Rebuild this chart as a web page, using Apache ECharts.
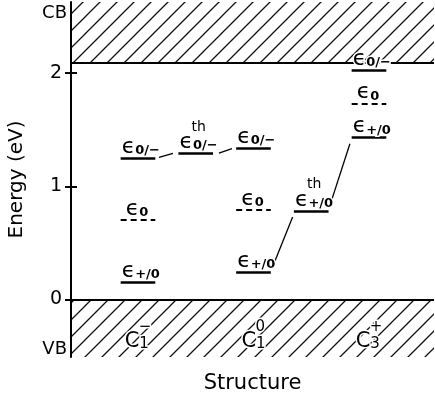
<!DOCTYPE html>
<html><head><meta charset="utf-8">
<script src="https://cdn.jsdelivr.net/npm/echarts@6/dist/echarts.min.js"></script>
<style>html,body{margin:0;padding:0;background:#fff}#c{width:435px;height:394px}</style>
</head><body><div id="c"></div>
<script>
// ---- data ----
const yTicks = [0, 1, 2];
const bandLabels = ['VB', 'CB'];
const bandLabelE = [-0.44, 2.53];
const vbTop = 0;
const cbBottom = 2.09;

const structureX = [1, 2, 3];
const structureBase = ['C', 'C', 'C'];
const structureSub = ['1', '1', '3'];
const structureSup = ['\u2212', '0', '+'];

const levelX = [1, 1, 1, 1.5, 2, 2, 2, 2.5, 3, 3, 3];
const levelE = [1.25, 0.70, 0.15, 1.29, 1.34, 0.79, 0.24, 0.78, 2.03, 1.73, 1.43];
const levelName = ['0/\u2212', '0', '+/0', '0/\u2212', '0/\u2212', '0', '+/0', '+/0', '0/\u2212', '0', '+/0'];
const levelTh = [false, false, false, true, false, false, false, true, false, false, false];

const connectorX0 = [1.182, 1.701, 2.166, 2.662];
const connectorE0 = [1.256, 1.294, 0.288, 0.831];
const connectorX1 = [1.303, 1.814, 2.339, 2.835];
const connectorE1 = [1.291, 1.333, 0.729, 1.376];

// ---- styles ----
const FONT = 'DejaVu Sans';
const HALF = 0.15;

function hatchPattern() {
  const s = 17;
  const c = document.createElement('canvas');
  c.width = s; c.height = s;
  const g = c.getContext('2d');
  g.strokeStyle = '#111'; g.lineWidth = 1.3;
  g.beginPath();
  g.moveTo(0, s); g.lineTo(s, 0);
  g.moveTo(-3, 3); g.lineTo(3, -3);
  g.moveTo(s - 3, s + 3); g.lineTo(s + 3, s - 3);
  g.stroke();
  return c;
}
const hatch = { image: hatchPattern(), repeat: 'repeat' };

const halo = { textBorderColor: '#fff', textBorderWidth: 3 };
const levelRich = {
  t: Object.assign({ fontFamily: FONT, fontSize: 14, lineHeight: 11, align: 'left', padding: [0, 0, 0, 12], color: '#000' }, halo),
  e: Object.assign({ fontFamily: FONT, fontSize: 22, lineHeight: 20, align: 'left', color: '#000' }, halo),
  e0: Object.assign({ fontFamily: FONT, fontSize: 22, lineHeight: 20, align: 'left', padding: [0, 0, 0, 4], color: '#000' }, halo),
  s: Object.assign({ fontFamily: FONT, fontSize: 13, fontWeight: 'bold', lineHeight: 13, verticalAlign: 'bottom', align: 'left', color: '#000' }, halo)
};

const levelData = levelX.map((x, i) => {
  const mid = levelName[i] === '0';
  return {
    coords: [[x - HALF, levelE[i]], [x + HALF, levelE[i]]],
    lineStyle: mid ? { type: [6, 4], width: 2, color: '#000', opacity: 1 } : { type: 'solid', width: 2.6, color: '#000', opacity: 1 },
    label: {
      show: true,
      position: 'insideStartTop',
      distance: 1,
      color: '#000',
      formatter: (levelTh[i] ? '{t|th}\n' : '') + (mid ? '{e0|\u03F5}' : '{e|\u03F5}') + '{s|' + levelName[i] + '}',
      rich: levelRich
    }
  };
});

const connectorData = connectorX0.map((x, i) => ({
  coords: [[x, connectorE0[i]], [connectorX1[i], connectorE1[i]]]
}));

const catRich = {
  p: Object.assign({ fontFamily: FONT, fontSize: 15, lineHeight: 10, align: 'left', padding: [0, 0, 0, 14], color: '#000' }, halo),
  c: Object.assign({ fontFamily: FONT, fontSize: 21, lineHeight: 20, align: 'left', color: '#000' }, halo),
  n: Object.assign({ fontFamily: FONT, fontSize: 15, lineHeight: 14, verticalAlign: 'bottom', align: 'left', color: '#000' }, halo)
};

const chart = echarts.init(document.getElementById('c'), null, { renderer: 'canvas' });
chart.setOption({
  animation: false,
  backgroundColor: '#fff',
  grid: { left: 71, right: 1, top: 2, bottom: 37, outerBoundsMode: 'none', containLabel: false },
  xAxis: {
    type: 'value', min: 0.42, max: 3.563, z: 20,
    axisLine: { show: false }, axisTick: { show: false }, splitLine: { show: false },
    axisLabel: {
      inside: true, margin: 5,
      customValues: structureX,
      formatter: v => {
        const i = structureX.indexOf(v);
        if (i < 0) return '';
        return '{p|' + structureSup[i] + '}\n{c|' + structureBase[i] + '}{n|' + structureSub[i] + '}';
      },
      rich: catRich
    },
    name: 'Structure', nameLocation: 'middle', nameGap: 16,
    nameTextStyle: { fontFamily: FONT, fontSize: 21, color: '#000' }
  },
  yAxis: [{
    type: 'value', min: -0.51, max: 2.63, position: 'left', z: 20,
    axisLine: { show: true, lineStyle: { color: '#000', width: 2 } },
    axisTick: { show: true, customValues: yTicks, length: 6, lineStyle: { color: '#000', width: 2 } },
    axisLabel: { customValues: yTicks, margin: 9, fontFamily: FONT, fontSize: 19, color: '#000' },
    splitLine: { show: false },
    name: 'Energy (eV)', nameLocation: 'middle', nameRotate: 90, nameGap: 44,
    nameTextStyle: { fontFamily: FONT, fontSize: 20, color: '#000' }
  }, {
    type: 'value', min: -0.51, max: 2.63, position: 'left', z: 20,
    axisLine: { show: false },
    axisTick: { show: true, inside: true, customValues: yTicks, length: 6, lineStyle: { color: '#000', width: 2 } },
    axisLabel: {
      customValues: bandLabelE, margin: 4, fontFamily: FONT, fontSize: 18, color: '#000',
      formatter: v => { const i = bandLabelE.indexOf(v); return i < 0 ? '' : bandLabels[i]; }
    },
    splitLine: { show: false }
  }],
  series: [{
    type: 'line', data: [], silent: true, z: 1,
    markArea: {
      silent: true, z: 1,
      itemStyle: { color: hatch },
      data: [
        [{ yAxis: cbBottom }, { yAxis: 2.63 }],
        [{ yAxis: -0.51 }, { yAxis: vbTop }]
      ]
    },
    markLine: {
      silent: true, symbol: 'none', z: 2,
      label: { show: false },
      lineStyle: { color: '#000', width: 2, type: 'solid', opacity: 1 },
      data: [{ yAxis: cbBottom }, { yAxis: vbTop }]
    }
  }, {
    type: 'lines', coordinateSystem: 'cartesian2d', silent: true, z: 5,
    data: connectorData,
    lineStyle: { color: '#000', width: 1.3, opacity: 1 }
  }, {
    type: 'lines', coordinateSystem: 'cartesian2d', silent: true, z: 6,
    data: levelData,
    lineStyle: { color: '#000', width: 2.6, opacity: 1 }
  }]
});
</script></body></html>
